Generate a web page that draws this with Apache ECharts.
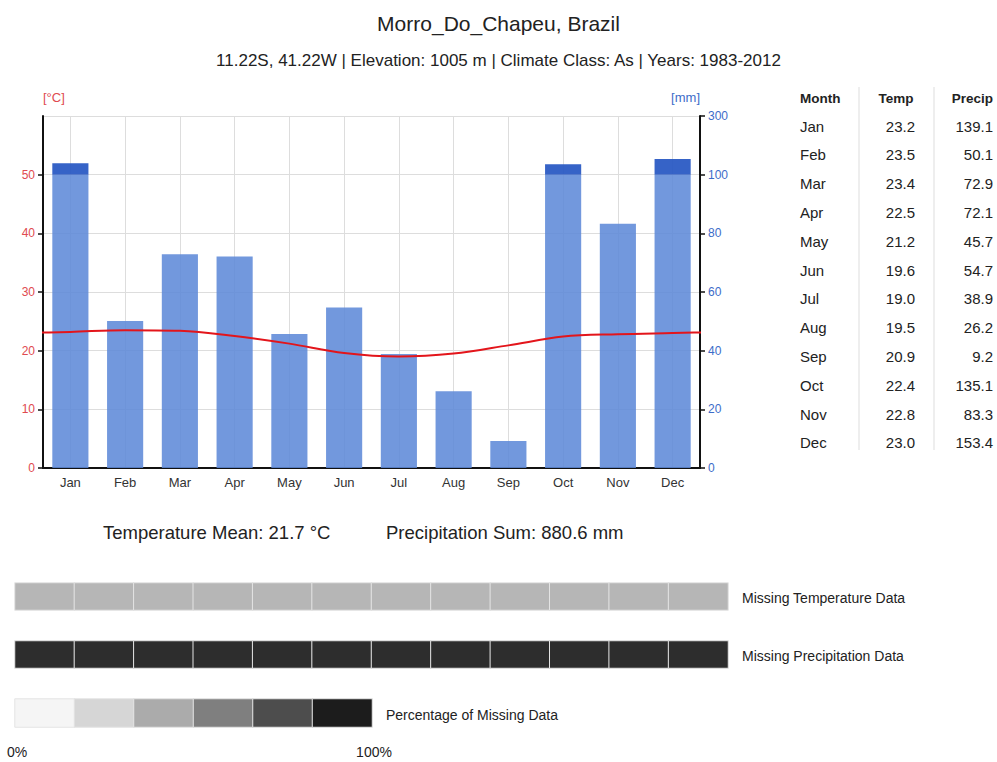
<!DOCTYPE html>
<html>
<head>
<meta charset="utf-8">
<script src="https://cdn.jsdelivr.net/npm/echarts@6/dist/echarts.min.js"></script>
<style>
  html, body { margin: 0; padding: 0; background: #ffffff; }
  #chart { width: 997px; height: 762px; }
</style>
</head>
<body>
<div id="chart"></div>
<script>
// Monthly climate normals
const months = ['Jan', 'Feb', 'Mar', 'Apr', 'May', 'Jun', 'Jul', 'Aug', 'Sep', 'Oct', 'Nov', 'Dec'];
const temperature = [23.2, 23.5, 23.4, 22.5, 21.2, 19.6, 19.0, 19.5, 20.9, 22.4, 22.8, 23.0];
const precipitation = [139.1, 50.1, 72.9, 72.1, 45.7, 54.7, 38.9, 26.2, 9.2, 135.1, 83.3, 153.4];

// Share of missing records per month (%)
const missingTemperature = [35, 35, 35, 35, 35, 35, 35, 35, 35, 35, 35, 35];
const missingPrecipitation = [93, 93, 93, 93, 93, 93, 93, 93, 93, 93, 93, 93];
const missingScaleSteps = [0, 20, 40, 60, 80, 100];
const missingScaleColors = ['#f5f5f5', '#d6d6d6', '#ababab', '#7f7f7f', '#4d4d4d', '#1c1c1c'];

const stationTitle = 'Morro_Do_Chapeu, Brazil';
const stationInfo = '11.22S, 41.22W | Elevation: 1005 m | Climate Class: As | Years: 1983-2012';
const temperatureMeanText = 'Temperature Mean: 21.7 °C';
const precipitationSumText = 'Precipitation Sum: 880.6 mm';

// Precipitation above 100 mm is drawn at a 1:10 compressed scale
const PRECIP_BREAK = 100;
const PRECIP_COMPRESS = 10;

const FONT = '"Liberation Sans", Arial, Helvetica, sans-serif';

const precipLower = precipitation.map(p => Math.min(p, PRECIP_BREAK));
const precipUpper = precipitation.map(p => p > PRECIP_BREAK ? (p - PRECIP_BREAK) / PRECIP_COMPRESS : 0);

// Temperature curve wraps around the year so it reaches both plot edges
const tempCurve = [[-1, temperature[11]]]
  .concat(temperature.map((t, i) => [i, t]))
  .concat([[12, temperature[0]]]);

const chart = echarts.init(document.getElementById('chart'), null, { renderer: 'svg' });

const txt = (text, x, y, size, align, bold) => ({
  type: 'text',
  style: {
    text, x, y,
    font: (bold ? 'bold ' : '') + size + 'px ' + FONT,
    fill: '#222', textAlign: align, textVerticalAlign: 'middle'
  }
});

// Monthly table beside the diagram
const graphics = [];
const tableX = { month: 800, temp: 915, precip: 993 };
const headY = 98, rowY0 = 126, rowStep = 28.8;
graphics.push(txt('Month', tableX.month, headY, 13.5, 'left', true));
graphics.push(txt('Temp', 896, headY, 13.5, 'center', true));
graphics.push(txt('Precip', tableX.precip, headY, 13.5, 'right', true));
[859, 934].forEach(x => graphics.push({ type: 'line', shape: { x1: x, y1: 87, x2: x, y2: 450 }, style: { stroke: '#dddddd', lineWidth: 1 } }));
months.forEach((m, i) => {
  const y = rowY0 + i * rowStep;
  graphics.push(txt(m, tableX.month, y, 15, 'left'));
  graphics.push(txt(temperature[i].toFixed(1), tableX.temp, y, 15, 'right'));
  graphics.push(txt(precipitation[i].toFixed(1), tableX.precip, y, 15, 'right'));
});

// Summary line
graphics.push(txt(temperatureMeanText, 103, 532, 18.5, 'left'));
graphics.push(txt(precipitationSumText, 386, 532, 18.5, 'left'));

// Missing-data strip labels
graphics.push(txt('Missing Temperature Data', 742, 598, 14, 'left'));
graphics.push(txt('Missing Precipitation Data', 742, 656, 14, 'left'));
graphics.push(txt('Percentage of Missing Data', 386, 715, 14, 'left'));
graphics.push(txt('0%', 7, 752, 14, 'left'));
graphics.push(txt('100%', 374, 752, 14, 'center'));

const hiddenCat = (gridIndex, data) => ({ type: 'category', gridIndex, data, show: false });

const option = {
  backgroundColor: '#ffffff',
  animation: false,
  textStyle: { fontFamily: FONT },
  title: [
    { text: stationTitle, left: 'center', top: 8, textStyle: { fontSize: 21, fontWeight: 'normal', color: '#222', fontFamily: FONT } },
    { text: stationInfo, left: 'center', top: 47, textStyle: { fontSize: 17, fontWeight: 'normal', color: '#222', fontFamily: FONT } }
  ],
  grid: [
    { left: 43, top: 116, width: 657, height: 352 },
    { left: 15, top: 583, width: 713, height: 27 },
    { left: 15, top: 641, width: 713, height: 27 },
    { left: 15, top: 699, width: 357, height: 28 }
  ],
  xAxis: [
    {
      type: 'category', gridIndex: 0, data: months,
      axisLine: { lineStyle: { color: '#111', width: 2 } },
      axisTick: { alignWithLabel: true, length: 5, lineStyle: { color: '#111', width: 1.5 } },
      axisLabel: { color: '#333', fontSize: 13, margin: 8 },
      splitLine: { show: true, alignWithLabel: true, lineStyle: { color: '#dddddd', width: 1 } }
    },
    { type: 'value', gridIndex: 0, min: -0.5, max: 11.5, show: false },
    hiddenCat(1, months),
    hiddenCat(2, months),
    hiddenCat(3, missingScaleSteps.map(String))
  ],
  yAxis: [
    {
      type: 'value', gridIndex: 0, min: 0, max: 60, interval: 10, position: 'left',
      name: '[°C]', nameLocation: 'end', nameGap: 12,
      nameTextStyle: { color: '#e04a50', fontSize: 13, align: 'left' },
      axisLine: { show: true, onZero: false, lineStyle: { color: '#111', width: 2 } },
      axisTick: { show: true, length: 5, lineStyle: { color: '#111', width: 1.5 } },
      axisLabel: { color: '#e04a50', fontSize: 12, margin: 8, showMaxLabel: false },
      splitLine: { show: true, lineStyle: { color: '#dddddd', width: 1 } }
    },
    {
      type: 'value', gridIndex: 0, min: 0, max: PRECIP_BREAK + 200 / PRECIP_COMPRESS, interval: 20, position: 'right',
      name: '[mm]', nameLocation: 'end', nameGap: 12,
      nameTextStyle: { color: '#3d6cc9', fontSize: 13, align: 'right' },
      axisLine: { show: true, onZero: false, lineStyle: { color: '#111', width: 2 } },
      axisTick: { show: true, length: 5, lineStyle: { color: '#111', width: 1.5 } },
      axisLabel: {
        color: '#3d6cc9', fontSize: 12, margin: 8,
        formatter: v => v <= PRECIP_BREAK ? String(v) : String(PRECIP_BREAK + (v - PRECIP_BREAK) * PRECIP_COMPRESS)
      },
      splitLine: { show: false }
    },
    hiddenCat(1, ['t']),
    hiddenCat(2, ['p']),
    hiddenCat(3, ['s'])
  ],
  visualMap: {
    type: 'continuous', show: false, min: 0, max: 100,
    seriesIndex: [3, 4, 5], dimension: 2,
    inRange: { color: missingScaleColors }
  },
  graphic: graphics,
  series: [
    {
      name: 'Precipitation', type: 'bar', xAxisIndex: 0, yAxisIndex: 1, stack: 'precip',
      barWidth: '66%', data: precipLower,
      itemStyle: { color: '#5f8ad8', opacity: 0.88 }, z: 2
    },
    {
      name: 'Precipitation > 100 mm', type: 'bar', xAxisIndex: 0, yAxisIndex: 1, stack: 'precip',
      barWidth: '66%', data: precipUpper,
      itemStyle: { color: '#2556c2', opacity: 0.92 }, z: 2
    },
    {
      name: 'Temperature', type: 'line', xAxisIndex: 1, yAxisIndex: 0,
      data: tempCurve, smooth: 0.35, showSymbol: false, clip: true,
      lineStyle: { color: '#e3151b', width: 2 }, z: 3
    },
    {
      name: 'Missing Temperature', type: 'heatmap', xAxisIndex: 2, yAxisIndex: 2,
      data: missingTemperature.map((v, i) => [i, 0, v]),
      itemStyle: { borderColor: '#e4e4e4', borderWidth: 1 }
    },
    {
      name: 'Missing Precipitation', type: 'heatmap', xAxisIndex: 3, yAxisIndex: 3,
      data: missingPrecipitation.map((v, i) => [i, 0, v]),
      itemStyle: { borderColor: '#e4e4e4', borderWidth: 1 }
    },
    {
      name: 'Missing Scale', type: 'heatmap', xAxisIndex: 4, yAxisIndex: 4,
      data: missingScaleSteps.map((v, i) => [i, 0, v]),
      itemStyle: { borderColor: '#e4e4e4', borderWidth: 1 }
    }
  ]
};

chart.setOption(option);
</script>
</body>
</html>
